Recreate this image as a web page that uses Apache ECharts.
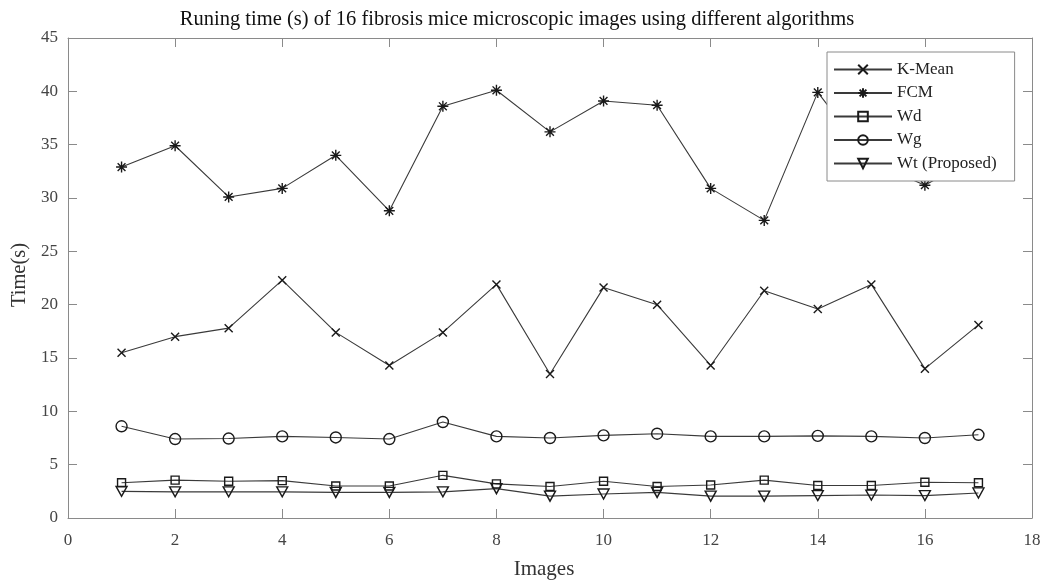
<!DOCTYPE html>
<html>
<head>
<meta charset="utf-8">
<script src="https://cdn.jsdelivr.net/npm/echarts@6/dist/echarts.min.js"></script>
<style>html,body{margin:0;padding:0;background:#fff}#c{width:1041px;height:581px}</style>
</head>
<body>
<div id="c"></div>
<script>
const images = [1,2,3,4,5,6,7,8,9,10,11,12,13,14,15,16,17];
const kMean = [15.5,17.0,17.8,22.3,17.4,14.3,17.4,21.9,13.5,21.6,20.0,14.3,21.3,19.6,21.9,14.0,18.1];
const fcm   = [32.9,34.9,30.1,30.9,34.0,28.8,38.6,40.1,36.2,39.1,38.7,30.9,27.9,39.9,33.4,31.2,34.0];
const wd    = [3.3,3.55,3.45,3.5,3.0,3.0,4.0,3.2,2.95,3.45,2.95,3.1,3.55,3.05,3.05,3.35,3.3];
const wg    = [8.6,7.4,7.45,7.65,7.55,7.4,9.0,7.65,7.5,7.75,7.9,7.65,7.65,7.7,7.65,7.5,7.8];
const wt    = [2.5,2.45,2.45,2.45,2.4,2.4,2.45,2.75,2.05,2.25,2.4,2.05,2.05,2.1,2.15,2.1,2.35];
const seriesNames = ['K-Mean','FCM','Wd','Wg','Wt (Proposed)'];
const xTicks = [0,2,4,6,8,10,12,14,16,18];

const FONT = '"Liberation Serif", "DejaVu Serif", serif';
const symX = 'path://M0,0L10,10M10,0L0,10';
const symStar = 'path://M5,0L5,10M0,5L10,5M1.46,1.46L8.54,8.54M8.54,1.46L1.46,8.54';
const symSq = 'path://M0,0L10,0L10,10L0,10Z';
const symCirc = 'path://M10,5A5,5,0,1,1,0,5A5,5,0,1,1,10,5Z';
const symTri = 'path://M0,0L10,0L5,8.66Z';

function mk(name, data, symbol, size) {
  return {
    name: name, type: 'line',
    data: images.map((x, i) => [x, data[i]]),
    symbol: symbol, symbolSize: size, showAllSymbol: true,
    lineStyle: { color: '#3a3a3a', width: 1.1 },
    itemStyle: { color: 'none', borderColor: '#1a1a1a', borderWidth: 1.4 },
    emphasis: { disabled: true },
    animation: false
  };
}

const chart = echarts.init(document.getElementById('c'), null, { renderer: 'canvas' });
const axisLine = { show: true, onZero: false, lineStyle: { color: '#8a8a8a', width: 1 } };
const tick = { show: true, inside: true, length: 9, lineStyle: { color: '#8a8a8a' } };
chart.setOption({
  backgroundColor: '#fff',
  animation: false,
  title: {
    text: 'Runing time (s) of 16 fibrosis mice microscopic images using different algorithms',
    left: 512, textAlign: 'center', top: 4,
    textStyle: { fontFamily: FONT, fontSize: 20.5, fontWeight: 'normal', color: '#111' }
  },
  legend: {
    data: seriesNames,
    orient: 'vertical',
    left: 827, top: 52,
    padding: [9, 18, 9, 6],
    itemWidth: 58, itemHeight: 12, itemGap: 6.5,
    backgroundColor: '#fff',
    borderColor: '#8a8a8a', borderWidth: 1, borderRadius: 0,
    textStyle: { fontFamily: FONT, fontSize: 17, color: '#222', padding: [0,0,0,0], lineHeight: 14 }
  },
  grid: { left: 68, right: 9, top: 38, bottom: 63, containLabel: false, outerBoundsMode: 'none' },
  xAxis: [{
    type: 'value', min: 0, max: 18, interval: 2,
    name: 'Images', nameLocation: 'middle', nameGap: 41,
    nameTextStyle: { fontFamily: FONT, fontSize: 21, color: '#333', padding: [0, 12, 0, 0] },
    axisLine: axisLine, axisTick: tick,
    axisLabel: { fontFamily: FONT, fontSize: 17, color: '#444', margin: 14,
      formatter: v => xTicks.includes(v) ? String(v) : '' },
    splitLine: { show: false }
  }, {
    type: 'value', min: 0, max: 18, interval: 2, position: 'top',
    axisLine: axisLine, axisTick: tick,
    axisLabel: { show: false }, splitLine: { show: false }
  }],
  yAxis: [{
    type: 'value', min: 0, max: 45, interval: 5,
    name: 'Time(s)', nameLocation: 'middle', nameGap: 38,
    nameTextStyle: { fontFamily: FONT, fontSize: 20.5, color: '#333', padding: [0, 0, 0, 6] },
    axisLine: axisLine, axisTick: tick,
    axisLabel: { fontFamily: FONT, fontSize: 17, color: '#444', margin: 10 },
    splitLine: { show: false }
  }, {
    type: 'value', min: 0, max: 45, interval: 5, position: 'right',
    axisLine: axisLine, axisTick: tick,
    axisLabel: { show: false }, splitLine: { show: false }
  }],
  series: [
    mk('K-Mean', kMean, symX, 8),
    mk('FCM', fcm, symStar, 11),
    mk('Wd', wd, symSq, 8),
    mk('Wg', wg, symCirc, 11),
    mk('Wt (Proposed)', wt, symTri, [11, 10])
  ]
});
</script>
</body>
</html>
